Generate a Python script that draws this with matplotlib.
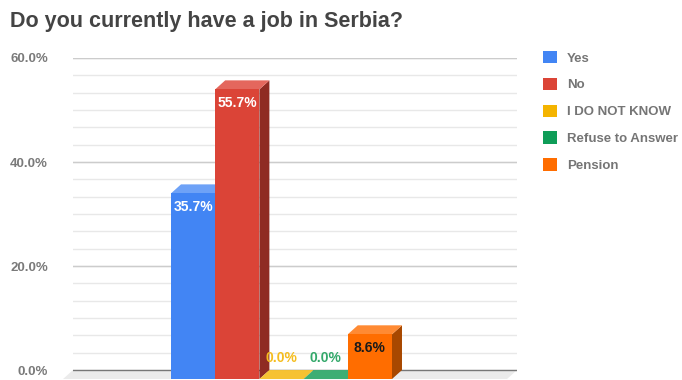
import matplotlib
matplotlib.use('Agg')
import matplotlib.pyplot as plt
from matplotlib.patches import Polygon, Patch
import numpy as np

# chart data
categories = ['Yes', 'No', 'I DO NOT KNOW', 'Refuse to Answer', 'Pension']
values = [35.7, 55.7, 0.0, 0.0, 8.6]
value_labels = ['35.7%', '55.7%', '0.0%', '0.0%', '8.6%']
y_ticks = [0, 20, 40, 60]
y_tick_labels = ['0.0%', '20.0%', '40.0%', '60.0%']

# colours: front face, top face, side face, value label
front_colors = ['#4285f4', '#db4437', '#f4b400', '#0f9d58', '#ff6d00']
top_colors = ['#6ea2f7', '#e4675d', '#f6c232', '#3dae74', '#ff8a33']
side_colors = ['#2f64c0', '#8f2b23', '#b08300', '#0a6e3e', '#a84800']
label_colors = ['white', 'white', '#f5bd1f', '#33a86a', '#1a1a1a']

plt.rcParams['font.family'] = ['Liberation Sans', 'DejaVu Sans']

fig = plt.figure(figsize=(6.82, 3.8), dpi=100)
ax = fig.add_axes([73 / 682, 0.6 / 380, 444 / 682, 321.4 / 380])

# 3d depth of the bars in data units
dx = 0.226
dy = 1.73

xl, xr = -2.943, 7.102
ax.set_xlim(xl, xr)
ax.set_ylim(-1.8, 60)
for s in ax.spines.values():
    s.set_visible(False)
ax.set_xticks([])

# back wall grid
for g in np.arange(0, 60.01, 10 / 3):
    ax.axhline(g, color='#e8e8e8', lw=1, zorder=0)
for g in y_ticks[1:]:
    ax.axhline(g, color='#cccccc', lw=1, zorder=0)

# floor and baseline
floor = Polygon([(xl, 0), (xr, 0), (xr - dx, -dy), (xl - dx, -dy)],
                closed=True, facecolor='#ebebeb', edgecolor='none', zorder=1, clip_on=False)
ax.add_patch(floor)
ax.axhline(0, color='#777777', lw=1, zorder=1)

# bars, left to right so the next front face covers the previous side
for i, v in enumerate(values):
    x0, x1 = i - 0.5, i + 0.5
    side = Polygon([(x1 - dx, -dy), (x1, 0), (x1, v), (x1 - dx, v - dy)],
                   facecolor=side_colors[i], edgecolor='none', zorder=2 + i, clip_on=False)
    top = Polygon([(x0 - dx, v - dy), (x1 - dx, v - dy), (x1, v), (x0, v)],
                  facecolor=top_colors[i], edgecolor='none', zorder=2 + i, clip_on=False)
    ax.add_patch(side)
    ax.add_patch(top)
    ax.bar(i - dx, v, bottom=-dy, width=1, color=front_colors[i], zorder=2 + i, clip_on=False)

    if v > 3:
        ax.annotate(value_labels[i], (i - dx, v - dy), xytext=(0, -14), textcoords='offset pixels',
                    ha='center', va='center', fontsize=10, fontweight='bold',
                    color=label_colors[i], zorder=10)
    else:
        ax.annotate(value_labels[i], (i - dx, v - dy), xytext=(0, 21), textcoords='offset pixels',
                    ha='center', va='center', fontsize=10, fontweight='bold',
                    color=label_colors[i], zorder=10)

# y axis labels
ax.set_yticks(y_ticks, y_tick_labels)
ax.tick_params(axis='y', length=0, pad=18, labelsize=9.5, labelcolor='#7a7a7a')
for t in ax.get_yticklabels():
    t.set_fontweight('bold')

fig.text(10 / 682, 1 - 22 / 380, 'Do you currently have a job in Serbia?',
         fontsize=15.5, fontweight='bold', color='#444444', va='center', ha='left')

handles = [Patch(facecolor=c, edgecolor='none') for c in front_colors]
fig.legend(handles, categories, loc='upper left', bbox_to_anchor=(543 / 682, 1 - 51 / 380),
           frameon=False, borderpad=0, borderaxespad=0, handlelength=1.05, handleheight=1.05,
           handletextpad=0.76, labelspacing=1.0, prop={'size': 9.5, 'weight': 'bold'},
           labelcolor='#757575')

fig.savefig('out.png', dpi=100)
